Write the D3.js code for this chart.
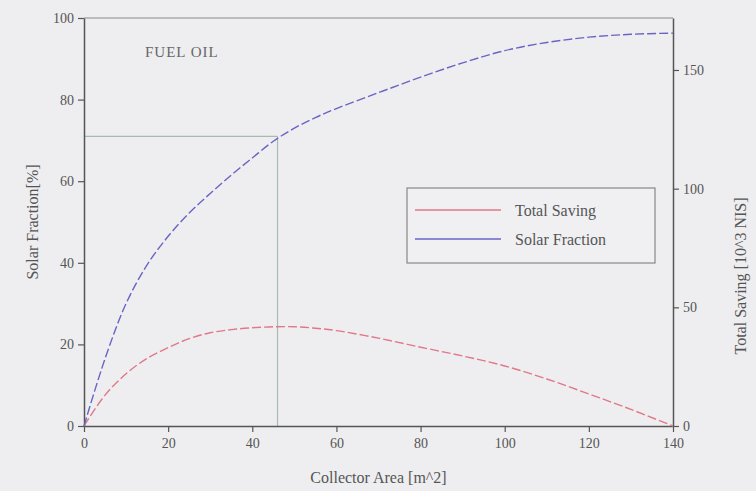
<!DOCTYPE html>
<html>
<head>
<meta charset="utf-8">
<script src="https://cdn.jsdelivr.net/npm/d3@7"></script>
<style>
  body { margin: 0; background: #eeeef0; }
  svg { display: block; }
</style>
</head>
<body>
<div id="chart"></div>
<script>
// collector area [m^2]
var area = [0, 5, 10, 15, 20, 25, 30, 35, 40, 45, 50, 55, 60, 70, 80, 90, 100, 110, 120, 130, 140];
// solar fraction [%] (left axis)
var solarFraction = [0, 16.5, 30, 39.5, 46.5, 52.2, 57, 61.5, 65.7, 69.8, 73, 75.6, 77.8, 81.7, 85.5, 89, 92, 94, 95.3, 96, 96.3];
// total saving [10^3 NIS] (right axis)
var totalSaving = [0, 13, 22, 28.5, 33, 36.8, 39.3, 40.6, 41.4, 41.8, 41.8, 41.2, 40.2, 37, 33.2, 29.5, 25.3, 19.8, 13.5, 7, 0];

var xTicks = [0, 20, 40, 60, 80, 100, 120, 140];
var leftTicks = [0, 20, 40, 60, 80, 100];
var rightTicks = [0, 50, 100, 150];
var legendNames = ["Total Saving", "Solar Fraction"];

// optimum marker
var markerArea = [46];
var markerFraction = [71];

var width = 756, height = 491;
var margin = {left: 84, right: 83, top: 18, bottom: 65};
var serif = "'Liberation Serif', 'DejaVu Serif', serif";
var axisColor = "#555";
var colors = ["#e07888", "#6a64c4"];

var svg = d3.select("#chart")
    .append("svg")
    .attr("width", width)
    .attr("height", height);

var x = d3.scaleLinear().domain([0, 140]).range([margin.left, width - margin.right]);
var yLeft = d3.scaleLinear().domain([0, 100]).range([height - margin.bottom, margin.top]);
var yRight = d3.scaleLinear().domain([0, 171.9]).range([height - margin.bottom, margin.top]);

// top border
svg.append("line")
    .attr("x1", x(0)).attr("x2", x(140))
    .attr("y1", yLeft(100)).attr("y2", yLeft(100))
    .attr("stroke", "#888").attr("stroke-width", 1.2);

// guide lines to the marker
svg.append("line")
    .attr("x1", x(0)).attr("x2", x(markerArea[0]))
    .attr("y1", yLeft(markerFraction[0])).attr("y2", yLeft(markerFraction[0]))
    .attr("stroke", "#a9bab2").attr("stroke-width", 1.2);
svg.append("line")
    .attr("x1", x(markerArea[0])).attr("x2", x(markerArea[0]))
    .attr("y1", yLeft(markerFraction[0])).attr("y2", yLeft(0))
    .attr("stroke", "#a9bab2").attr("stroke-width", 1.2);

function styleAxis(g) {
    g.select(".domain").attr("stroke", axisColor).attr("stroke-width", 1.5);
    g.selectAll(".tick line").attr("stroke", axisColor).attr("stroke-width", 1.2);
    g.selectAll(".tick text")
        .attr("fill", "#555")
        .attr("font-family", serif)
        .attr("font-size", 14);
}

svg.append("g")
    .attr("transform", "translate(0," + yLeft(0) + ")")
    .call(d3.axisBottom(x).tickValues(xTicks).tickSize(6).tickSizeOuter(0).tickPadding(6))
    .call(styleAxis);

svg.append("g")
    .attr("transform", "translate(" + x(0) + ",0)")
    .call(d3.axisLeft(yLeft).tickValues(leftTicks).tickSize(6).tickSizeOuter(0).tickPadding(4))
    .call(styleAxis);

svg.append("g")
    .attr("transform", "translate(" + x(140) + ",0)")
    .call(d3.axisRight(yRight).tickValues(rightTicks).tickSize(6).tickSizeOuter(0).tickPadding(4))
    .call(styleAxis);

// curves
var lineFraction = d3.line()
    .x(function (d, i) { return x(area[i]); })
    .y(function (d) { return yLeft(d); })
    .curve(d3.curveCatmullRom.alpha(0.5));
var lineSaving = d3.line()
    .x(function (d, i) { return x(area[i]); })
    .y(function (d) { return yRight(d); })
    .curve(d3.curveCatmullRom.alpha(0.5));

svg.append("path")
    .datum(totalSaving)
    .attr("d", lineSaving)
    .attr("fill", "none")
    .attr("stroke", colors[0])
    .attr("stroke-width", 1.4)
    .attr("stroke-dasharray", "9,3");

svg.append("path")
    .datum(solarFraction)
    .attr("d", lineFraction)
    .attr("fill", "none")
    .attr("stroke", colors[1])
    .attr("stroke-width", 1.4)
    .attr("stroke-dasharray", "9,3");

// title inside plot
svg.append("text")
    .attr("x", 145).attr("y", 57)
    .attr("font-family", serif)
    .attr("font-size", 15)
    .attr("letter-spacing", 1)
    .attr("fill", "#666")
    .text("FUEL OIL");

// legend
var legend = svg.append("g").attr("transform", "translate(407,188)");
legend.append("rect")
    .attr("width", 248).attr("height", 75)
    .attr("fill", "#f0f0f2")
    .attr("stroke", "#888").attr("stroke-width", 1.2);
legendNames.forEach(function (name, i) {
    legend.append("line")
        .attr("x1", 8).attr("x2", 94)
        .attr("y1", 22 + i * 29).attr("y2", 22 + i * 29)
        .attr("stroke", colors[i]).attr("stroke-width", 1.4);
    legend.append("text")
        .attr("x", 108).attr("y", 28 + i * 29)
        .attr("font-family", serif)
        .attr("font-size", 16)
        .attr("fill", "#555")
        .text(name);
});

// axis titles
svg.append("text")
    .attr("x", (x(0) + x(140)) / 2).attr("y", 483)
    .attr("text-anchor", "middle")
    .attr("font-family", serif).attr("font-size", 16)
    .attr("fill", "#555")
    .text("Collector Area [m^2]");

svg.append("text")
    .attr("transform", "translate(38," + 222 + ") rotate(-90)")
    .attr("text-anchor", "middle")
    .attr("font-family", serif).attr("font-size", 16)
    .attr("fill", "#555")
    .text("Solar Fraction[%]");

svg.append("text")
    .attr("transform", "translate(746," + 276 + ") rotate(-90)")
    .attr("text-anchor", "middle")
    .attr("font-family", serif).attr("font-size", 16)
    .attr("fill", "#555")
    .text("Total Saving [10^3 NIS]");
</script>
</body>
</html>
